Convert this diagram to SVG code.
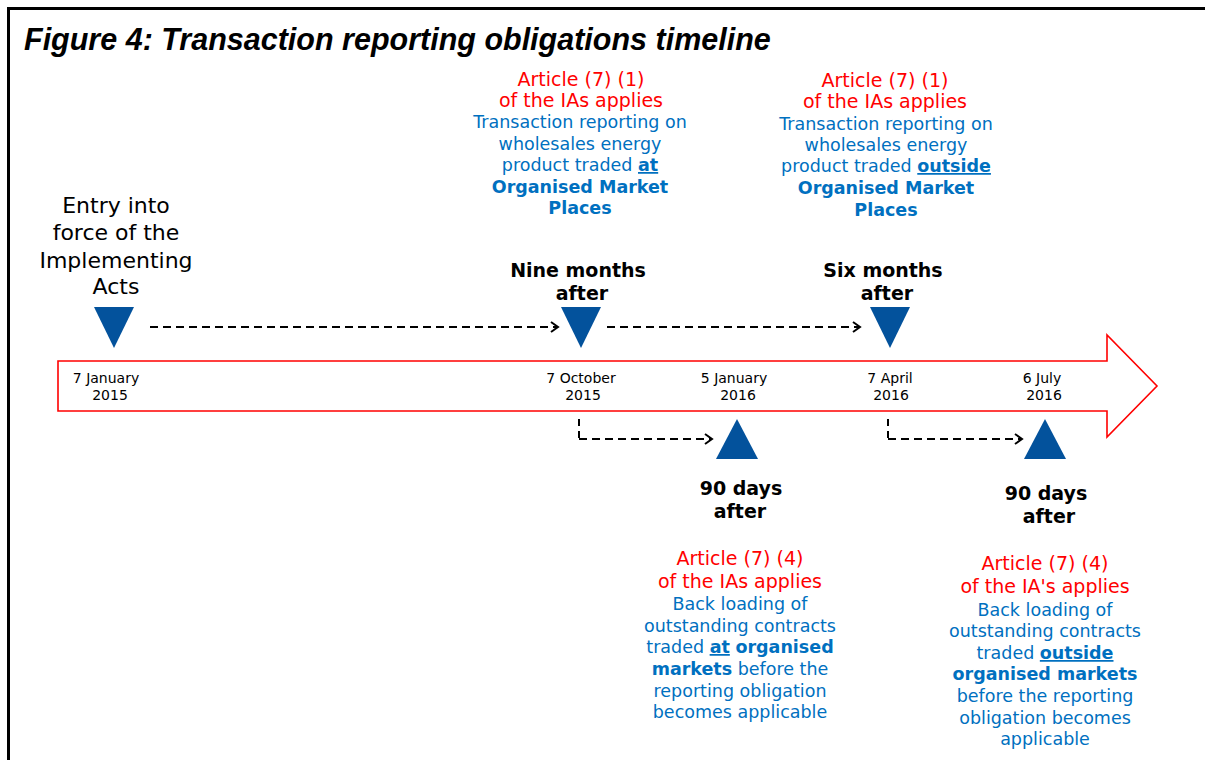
<svg xmlns="http://www.w3.org/2000/svg" width="1206" height="760" viewBox="0 0 1206 760">
<defs>
<style>
.t{font-family:"DejaVu Sans","Verdana",sans-serif;text-anchor:middle}
.title{font-family:"Liberation Sans",Arial,sans-serif;font-weight:bold;font-style:italic;font-size:30.5px;fill:#000}
.date{font-size:14px;fill:#000}
.blk{font-size:22px;fill:#000}
.bold{font-size:19px;font-weight:bold;fill:#000}
.red{font-size:19px;fill:#FF0000}
.blue{font-size:17.5px;fill:#0070C0}
.b{font-weight:bold}
.u{text-decoration:underline}
.tri{fill:#03529C}
.dash{stroke:#000;stroke-width:2;stroke-dasharray:8,5;fill:none}
</style>
<marker id="chev" markerUnits="userSpaceOnUse" markerWidth="12" markerHeight="14" refX="9" refY="6" orient="auto">
<path d="M2,1 L9,6 L2,11" fill="none" stroke="#000" stroke-width="2"/>
</marker>
</defs>
<rect width="1206" height="760" fill="#fff"/>
<path d="M8.5,760 V8.5 H1205" fill="none" stroke="#000" stroke-width="3"/>
<text class="title" x="24" y="50">Figure 4: Transaction reporting obligations timeline</text>

<g id="timeline">
<path d="M58,361 H1107 V335 L1157,386 L1107,437 V411 H58 Z" fill="#fff" stroke="#FF0000" stroke-width="1.6"/>
</g>

<g id="connectors">
<line class="dash" x1="150" y1="327" x2="558" y2="327" marker-end="url(#chev)"/>
<line class="dash" x1="607" y1="327" x2="860" y2="327" marker-end="url(#chev)"/>
<line x1="579" y1="419" x2="579" y2="440" stroke="#000" stroke-width="2" stroke-dasharray="7,5"/>
<line class="dash" x1="579" y1="439" x2="712" y2="439" marker-end="url(#chev)"/>
<line x1="888" y1="419" x2="888" y2="440" stroke="#000" stroke-width="2" stroke-dasharray="7,5"/>
<line class="dash" x1="888" y1="439" x2="1022" y2="439" marker-end="url(#chev)"/>
</g>

<g id="entry">
<text class="t blk" x="116"><tspan x="116" y="213">Entry into</tspan><tspan x="116" y="240">force of the</tspan><tspan x="116" y="268">Implementing</tspan><tspan x="116" y="294">Acts</tspan></text>
<polygon class="tri" points="94,307 134,307 114,348"/>
<text class="t date"><tspan x="106" y="383">7 January</tspan><tspan x="110" y="400">2015</tspan></text>
</g>

<g id="oct2015">
<text class="t red"><tspan x="581" y="86">Article (7) (1)</tspan><tspan x="581" y="107">of the IAs applies</tspan></text>
<text class="t blue"><tspan x="580" y="128">Transaction reporting on</tspan><tspan x="580" y="150">wholesales energy</tspan><tspan x="580" y="171">product traded <tspan class="b u">at</tspan></tspan><tspan x="580" y="193" class="b">Organised Market</tspan><tspan x="580" y="214" class="b">Places</tspan></text>
<text class="t bold"><tspan x="578" y="277">Nine months</tspan><tspan x="582" y="300">after</tspan></text>
<polygon class="tri" points="561,307 601,307 581,348"/>
<text class="t date"><tspan x="581" y="383">7 October</tspan><tspan x="583" y="400">2015</tspan></text>
</g>

<g id="apr2016">
<text class="t red"><tspan x="885" y="87">Article (7) (1)</tspan><tspan x="885" y="108">of the IAs applies</tspan></text>
<text class="t blue"><tspan x="886" y="130">Transaction reporting on</tspan><tspan x="886" y="151">wholesales energy</tspan><tspan x="886" y="172">product traded <tspan class="b u">outside</tspan></tspan><tspan x="886" y="194" class="b">Organised Market</tspan><tspan x="886" y="216" class="b">Places</tspan></text>
<text class="t bold"><tspan x="883" y="277">Six months</tspan><tspan x="887" y="300">after</tspan></text>
<polygon class="tri" points="870,307 910,307 890,348"/>
<text class="t date"><tspan x="890" y="383">7 April</tspan><tspan x="891" y="400">2016</tspan></text>
</g>

<g id="jan2016">
<text class="t date"><tspan x="734" y="383">5 January</tspan><tspan x="738" y="400">2016</tspan></text>
<polygon class="tri" points="737,419 758,459 716,459"/>
<text class="t bold"><tspan x="741" y="495">90 days</tspan><tspan x="740" y="518">after</tspan></text>
<text class="t red"><tspan x="740" y="565">Article (7) (4)</tspan><tspan x="740" y="588">of the IAs applies</tspan></text>
<text class="t blue"><tspan x="740" y="610">Back loading of</tspan><tspan x="740" y="632">outstanding contracts</tspan><tspan x="740" y="653">traded <tspan class="b u">at</tspan> <tspan class="b">organised</tspan></tspan><tspan x="740" y="675"><tspan class="b">markets</tspan> before the</tspan><tspan x="740" y="697">reporting obligation</tspan><tspan x="740" y="718">becomes applicable</tspan></text>
</g>

<g id="jul2016">
<text class="t date"><tspan x="1042" y="383">6 July</tspan><tspan x="1044" y="400">2016</tspan></text>
<polygon class="tri" points="1045,419 1066,459 1024,459"/>
<text class="t bold"><tspan x="1046" y="500">90 days</tspan><tspan x="1049" y="523">after</tspan></text>
<text class="t red"><tspan x="1045" y="570">Article (7) (4)</tspan><tspan x="1045" y="593">of the IA's applies</tspan></text>
<text class="t blue"><tspan x="1045" y="616">Back loading of</tspan><tspan x="1045" y="637">outstanding contracts</tspan><tspan x="1045" y="659">traded <tspan class="b u">outside</tspan></tspan><tspan x="1045" y="680" class="b">organised markets</tspan><tspan x="1045" y="702">before the reporting</tspan><tspan x="1045" y="724">obligation becomes</tspan><tspan x="1045" y="745">applicable</tspan></text>
</g>
</svg>
